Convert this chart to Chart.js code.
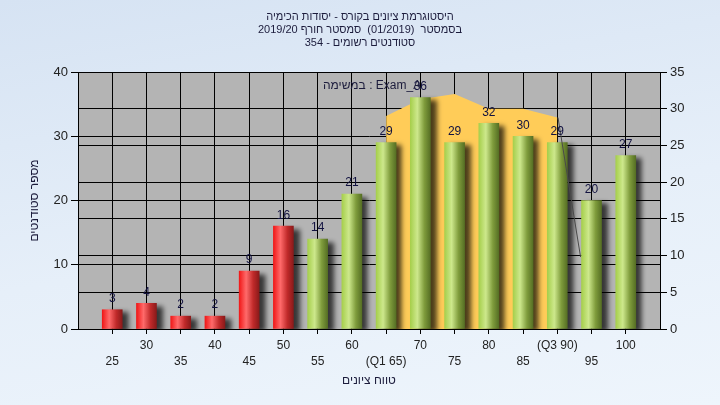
<!DOCTYPE html>
<html>
<head>
<meta charset="utf-8">
<script src="https://cdn.jsdelivr.net/npm/chart.js@4"></script>
<style>
    html, body { margin: 0; padding: 0; }
    body {
        width: 720px; height: 405px; overflow: hidden;
        background: linear-gradient(170deg, #d6e3f3 0%, #e6eff9 55%, #eef5fc 100%);
    }
    #wrap { position: relative; width: 720px; height: 405px; }
</style>
</head>
<body>
<div id="wrap"><canvas id="histChart" width="720" height="405"></canvas></div>
<script>
    // Data
    const grades = [25, 30, 35, 40, 45, 50, 55, 60, 65, 70, 75, 80, 85, 90, 95, 100];
    const students = [3, 4, 2, 2, 9, 16, 14, 21, 29, 36, 29, 32, 30, 29, 20, 27];
    const passGrade = 55;
    const quartileLabels = { 65: '(Q1 65)', 90: '(Q3 90)' };
    // orange band (right axis)
    const bandGrades = [65, 70, 75, 80, 85, 90];
    const bandValues = [29, 31.3, 32, 30, 30, 28.8];
    // thin slanted line near Q3 (right axis)
    const lineGrades = [90.1, 93.4];
    const lineValues = [28.8, 9.8];

    const titleLines = [
        'היסטוגרמת ציונים בקורס - יסודות הכימיה',
        'בסמסטר  (01/2019)  סמסטר חורף 2019/20',
        'סטודנטים רשומים - 354'
    ];
    const legendText = 'במשימה : Exam_A';

    const FONT = '"Liberation Sans", Arial, sans-serif';
    const TXT = '#1c1c3c';

    function barGradient(ctx) {
        const chart = ctx.chart;
        const x = chart.scales.x;
        const g = grades[ctx.dataIndex];
        const fallback = g < passGrade ? '#d02a2a' : '#a0c050';
        if (!x || ctx.type !== 'data') return fallback;
        const cx = x.getPixelForValue(g);
        if (!Number.isFinite(cx)) return fallback;
        const grad = chart.ctx.createLinearGradient(cx - 10, 0, cx + 10, 0);
        if (g < passGrade) {
            grad.addColorStop(0, '#f01818');
            grad.addColorStop(0.35, '#ff6a6a');
            grad.addColorStop(0.7, '#c02a2a');
            grad.addColorStop(1, '#8a1a1a');
        } else {
            grad.addColorStop(0, '#a6cf4c');
            grad.addColorStop(0.35, '#cde88c');
            grad.addColorStop(0.7, '#7f9c3c');
            grad.addColorStop(1, '#566f24');
        }
        return grad;
    }

    const decorPlugin = {
        id: 'decor',
        beforeDraw(chart) {
            const { ctx, chartArea: a } = chart;
            ctx.save();
            ctx.fillStyle = '#b4b4b4';
            ctx.fillRect(a.left, a.top, a.right - a.left, a.bottom - a.top);
            ctx.restore();
        },
        beforeDatasetDraw(chart, args) {
            if (args.meta.type !== 'bar') return;
            const ctx = chart.ctx;
            ctx.save();
            ctx.shadowColor = 'rgba(0,0,0,0.7)';
            ctx.shadowOffsetX = 6;
            ctx.shadowOffsetY = 3;
            ctx.shadowBlur = 5;
        },
        afterDatasetDraw(chart, args) {
            if (args.meta.type !== 'bar') return;
            chart.ctx.restore();
        },
        afterDatasetsDraw(chart) {
            const ctx = chart.ctx;
            const meta = chart.getDatasetMeta(0);
            ctx.save();
            ctx.font = '12px ' + FONT;
            ctx.fillStyle = '#121240';
            ctx.textAlign = 'center';
            ctx.textBaseline = 'middle';
            meta.data.forEach((bar, i) => {
                ctx.fillText(String(students[i]), bar.x, bar.y - 11);
            });
            // legend text
            ctx.fillStyle = TXT;
            ctx.textAlign = 'left';
            ctx.fillText(legendText, 323, 86);
            ctx.restore();
        },
        afterDraw(chart) {
            const ctx = chart.ctx;
            ctx.save();
            ctx.font = '11px ' + FONT;
            ctx.fillStyle = TXT;
            ctx.textAlign = 'center';
            ctx.textBaseline = 'middle';
            ctx.direction = 'rtl';
            titleLines.forEach((t, i) => ctx.fillText(t, 360, 17 + i * 13));
            ctx.restore();
        }
    };

    const histCtx = document.getElementById('histChart').getContext('2d');
    new Chart(histCtx, {
        data: {
            datasets: [{
                type: 'bar',
                data: grades.map((g, i) => ({ x: g, y: students[i] })),
                backgroundColor: barGradient,
                borderWidth: 0,
                barThickness: 20,
                yAxisID: 'y',
                order: 1
            }, {
                type: 'line',
                data: bandGrades.map((g, i) => ({ x: g, y: bandValues[i] })),
                borderWidth: 0,
                borderColor: '#ffcc58',
                backgroundColor: '#ffcc58',
                fill: 'origin',
                pointRadius: 0,
                tension: 0,
                yAxisID: 'y1',
                order: 3
            }, {
                type: 'line',
                data: lineGrades.map((g, i) => ({ x: g, y: lineValues[i] })),
                borderWidth: 1,
                borderColor: '#4a4a4a',
                pointRadius: 0,
                fill: false,
                yAxisID: 'y1',
                order: 0
            }]
        },
        options: {
            responsive: false,
            animation: false,
            layout: { padding: { top: 72, left: 0, right: 0, bottom: 0 } },
            plugins: {
                legend: { display: false },
                title: { display: false },
                tooltip: { enabled: false }
            },
            scales: {
                x: {
                    type: 'linear',
                    offset: false,
                    min: 20,
                    max: 105,
                    afterBuildTicks: (s) => {
                        s.ticks = s.ticks.filter(t => t.value >= 25 && t.value <= 100);
                    },
                    afterFit: (s) => { s.height = 76; },
                    ticks: {
                        stepSize: 5,
                        autoSkip: false,
                        maxRotation: 0,
                        padding: 4,
                        color: '#222',
                        font: { family: FONT, size: 12, lineHeight: 1.34 },
                        callback: (v) => {
                            const txt = quartileLabels[v] || String(v);
                            const idx = Math.round((v - 25) / 5);
                            return idx % 2 === 0 ? ['', txt] : [txt, ''];
                        }
                    },
                    grid: { offset: false, color: '#000', lineWidth: 1, tickLength: 5, tickColor: '#000' },
                    border: { color: '#000' },
                    title: {
                        display: true,
                        text: 'טווח ציונים',
                        color: TXT,
                        font: { family: FONT, size: 12 },
                        padding: { top: 0, bottom: 17 }
                    }
                },
                y: {
                    position: 'left',
                    min: 0,
                    max: 40,
                    afterFit: (s) => { s.width = 78; },
                    ticks: {
                        stepSize: 10,
                        padding: 3,
                        color: '#222',
                        font: { family: FONT, size: 13 }
                    },
                    grid: { color: '#000', tickLength: 7, tickColor: '#000' },
                    border: { color: '#000' },
                    title: {
                        display: true,
                        text: 'מספר סטודנטים',
                        color: TXT,
                        font: { family: FONT, size: 12 },
                        padding: { top: 27, bottom: 0 }
                    }
                },
                y1: {
                    position: 'right',
                    min: 0,
                    max: 35,
                    afterFit: (s) => { s.width = 60; },
                    ticks: {
                        stepSize: 5,
                        padding: 3,
                        color: '#222',
                        font: { family: FONT, size: 13 }
                    },
                    grid: { color: '#000', tickLength: 7, tickColor: '#000' },
                    border: { color: '#000' }
                }
            }
        },
        plugins: [decorPlugin]
    });
</script>
</body>
</html>
